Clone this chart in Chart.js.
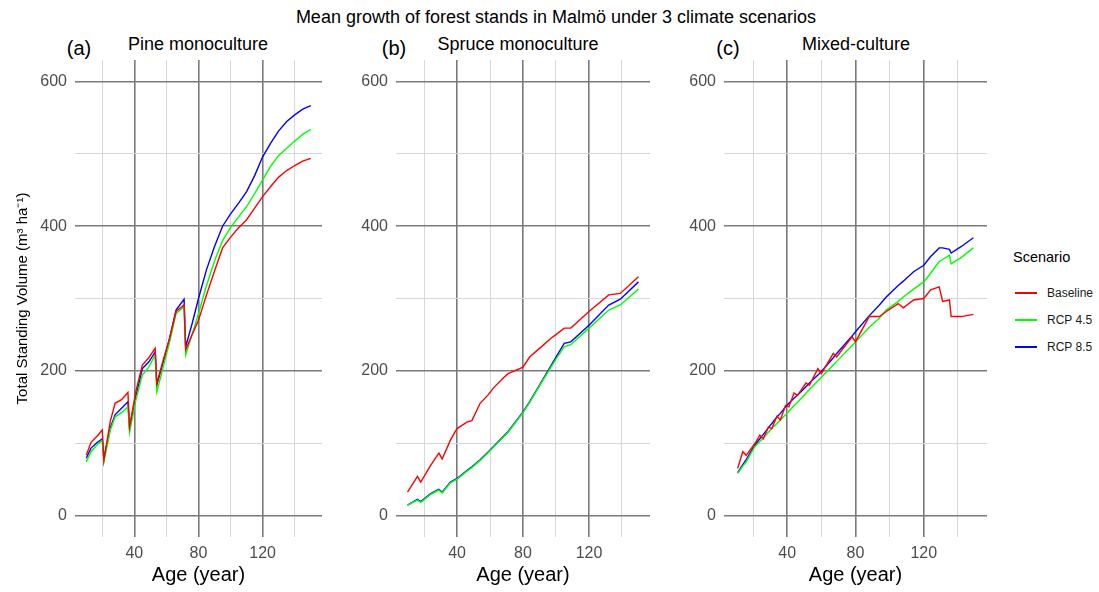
<!DOCTYPE html>
<html>
<head>
<meta charset="utf-8">
<title>Mean growth of forest stands in Malmö</title>
<script src="https://cdn.jsdelivr.net/npm/chart.js@4.4.0/dist/chart.umd.min.js"></script>
<style>
  html, body { margin: 0; padding: 0; background: #fff; }
  #figure {
    position: relative;
    width: 1099px;
    height: 592px;
    overflow: hidden;
    font-family: "Liberation Sans", Arial, sans-serif;
    color: #000;
  }
  #figure canvas { position: absolute; top: 0; }
  .txt {
    position: absolute;
    white-space: nowrap;
    line-height: 1;
    transform: translate(-50%, -50%);
  }
  #main-title { left: 556px; top: 17px; font-size: 18px; }
  .tag { font-size: 20px; top: 48px; }
  .panel-title { font-size: 18px; top: 44px; }
  #legend { position: absolute; left: 1013px; top: 249px; }
  #legend .legend-title { font-size: 14.5px; margin-bottom: 14px; color: #000; }
  #legend ul { list-style: none; margin: 0; padding: 0; }
  #legend li { display: flex; align-items: center; height: 27px; font-size: 12px; color: #1a1a1a; }
  #legend li span.swatch { display: inline-block; width: 22px; height: 0; margin: 0 10px 0 2px; border-top-style: solid; }
</style>
</head>
<body>
<div id="figure">
  <div class="txt" id="main-title">Mean growth of forest stands in Malmö under 3 climate scenarios</div>
  <div class="txt tag" style="left:79px">(a)</div>
  <div class="txt panel-title" style="left:198px">Pine monoculture</div>
  <div class="txt tag" style="left:394px">(b)</div>
  <div class="txt panel-title" style="left:518px">Spruce monoculture</div>
  <div class="txt tag" style="left:728px">(c)</div>
  <div class="txt panel-title" style="left:856px">Mixed-culture</div>

  <canvas id="pine" width="330" height="592" style="left:0px"></canvas>
  <canvas id="spruce" width="330" height="592" style="left:330px"></canvas>
  <canvas id="mixed" width="340" height="592" style="left:660px"></canvas>

  <div id="legend"></div>
</div>

<script>
// ---- data ----
const scenarios = ['Baseline', 'RCP 4.5', 'RCP 8.5'];
const scenarioColors = ['#ff0000', '#00ff00', '#0000ff'];

// Pine monoculture
const pineAges = [10, 13, 17, 20, 21, 25, 28, 32, 36, 37, 41, 45, 49, 53, 54, 58, 62, 66, 71, 72, 76, 80, 85, 90, 95, 100, 105, 110, 115, 120, 125, 130, 135, 140, 145, 150];
const pineBaseline = [83, 101, 110, 118, 76, 130, 155, 160, 170, 122, 172, 208, 218, 231, 182, 215, 245, 282, 291, 229, 250, 270, 305, 338, 370, 385, 398, 409, 425, 441, 455, 468, 477, 484, 490, 494];
const pineRcp45 = [74, 88, 98, 104, 74, 118, 136, 142, 150, 115, 160, 194, 205, 222, 171, 205, 240, 279, 289, 222, 250, 279, 318, 352, 380, 398, 413, 427, 445, 464, 483, 498, 508, 518, 527, 534];
const pineRcp85 = [79, 93, 101, 106, 79, 121, 139, 148, 157, 122, 165, 203, 212, 226, 180, 212, 245, 284, 299, 233, 265, 300, 340, 372, 400, 417, 432, 448, 470, 496, 515, 532, 545, 554, 562, 567];

// Spruce monoculture
const spruceAges = [10, 16, 18, 24, 29, 31, 36, 40, 46, 49, 54, 59, 62, 68, 71, 80, 84, 90, 97, 100, 105, 109, 120, 132, 139, 150];
const spruceBaseline = [32, 54, 46, 69, 86, 78, 104, 120, 129, 131, 155, 167, 176, 190, 196, 205, 219, 231, 245, 250, 259, 259, 282, 305, 307, 330];
const spruceRcp45 = [14, 21, 18, 29, 35, 31, 45, 50, 61, 66, 76, 87, 94, 108, 115, 142, 156, 179, 205, 216, 233, 236, 259, 284, 291, 313];
const spruceRcp85 = [14, 22, 19, 30, 36, 32, 46, 51, 62, 67, 77, 88, 95, 109, 116, 143, 157, 180, 207, 219, 238, 240, 263, 291, 299, 323];

// Mixed-culture
const mixedAges = [11, 14, 16, 21, 24, 26, 29, 31, 34, 36, 39, 41, 44, 46, 51, 53, 58, 60, 67, 69, 78, 80, 88, 94, 98, 105, 108, 114, 120, 124, 129, 131, 135, 136, 142, 149];
const mixedBaseline = [65, 88, 83, 99, 111, 106, 122, 120, 137, 132, 152, 150, 169, 166, 183, 180, 203, 196, 224, 219, 247, 240, 275, 275, 282, 293, 287, 298, 300, 312, 316, 296, 298, 275, 275, 278];
const mixedRcp45 = [58, 68, 74, 95, 102, 107, 115, 120, 127, 132, 139, 144, 152, 156, 169, 174, 186, 191, 208, 213, 235, 240, 260, 273, 284, 296, 302, 313, 323, 335, 351, 354, 360, 348, 357, 370];
const mixedRcp85 = [59, 70, 77, 97, 106, 112, 121, 127, 136, 141, 150, 155, 162, 166, 178, 183, 194, 199, 218, 224, 248, 254, 276, 291, 302, 318, 324, 337, 346, 358, 370, 370, 368, 363, 372, 384];

// axis ticks
const xTicks = [20, 40, 60, 80, 100, 120, 140];
const xLabelled = [40, 80, 120];
const yTicks = [0, 100, 200, 300, 400, 500, 600];
const yLabelled = [0, 200, 400, 600];

const MAJOR_GRID = '#7a7a7a';
const MINOR_GRID = '#d6d6de';

Chart.defaults.font.family = '"Liberation Sans", Arial, sans-serif';

function toPoints(ages, values) {
  return ages.map((age, i) => ({ x: age, y: values[i] }));
}

function buildDatasets(ages, seriesList) {
  return seriesList.map((values, i) => ({
    label: scenarios[i],
    data: toPoints(ages, values),
    borderColor: scenarioColors[i],
    backgroundColor: scenarioColors[i],
    borderWidth: 1.4,
    pointRadius: 0,
    tension: 0
  }));
}

/**
 * Builds a panel; yAxisWidth/rightPad place the plot area where the reference has it
 */
function makePanel(canvasId, datasets, yAxisWidth, rightPad, showYTitle, plugins) {
  const ctx = document.getElementById(canvasId);
  return new Chart(ctx, {
    type: 'line',
    data: { datasets: datasets },
    options: {
      responsive: false,
      animation: false,
      devicePixelRatio: 1,
      layout: { padding: { left: 0, right: rightPad, top: 60, bottom: 0 } },
      plugins: {
        legend: { display: false },
        tooltip: { enabled: false }
      },
      scales: {
        x: {
          type: 'linear',
          min: 3,
          max: 157,
          border: { display: false },
          grid: {
            drawTicks: false,
            color: (c) => xLabelled.includes(c.tick.value) ? MAJOR_GRID : MINOR_GRID,
            lineWidth: (c) => xLabelled.includes(c.tick.value) ? 1.6 : 1
          },
          ticks: {
            padding: 7,
            color: '#4d4d4d',
            font: { size: 16 },
            maxRotation: 0,
            autoSkip: false,
            callback: (v) => xLabelled.includes(v) ? String(v) : ''
          },
          afterBuildTicks: (scale) => { scale.ticks = xTicks.map(v => ({ value: v })); },
          afterFit: (scale) => { scale.height = 55; },
          title: {
            display: true,
            text: 'Age (year)',
            color: '#000',
            font: { size: 20 },
            padding: { top: 0, bottom: 5 }
          }
        },
        y: {
          type: 'linear',
          min: -30,
          max: 630,
          border: { display: false },
          grid: {
            drawTicks: false,
            color: (c) => yLabelled.includes(c.tick.value) ? MAJOR_GRID : MINOR_GRID,
            lineWidth: (c) => yLabelled.includes(c.tick.value) ? 1.6 : 1
          },
          ticks: {
            padding: 8,
            color: '#4d4d4d',
            font: { size: 16 },
            autoSkip: false,
            callback: (v) => yLabelled.includes(v) ? String(v) : ''
          },
          afterBuildTicks: (scale) => { scale.ticks = yTicks.map(v => ({ value: v })); },
          afterFit: (scale) => { scale.width = yAxisWidth; },
          title: {
            display: showYTitle,
            text: 'Total Standing Volume (m³ ha⁻¹)',
            color: '#000',
            font: { size: 15 },
            padding: { top: 14, bottom: 0 }
          }
        }
      }
    },
    plugins: plugins || []
  });
}

// HTML legend built from the chart's own legend items
const htmlLegend = {
  id: 'htmlLegend',
  afterUpdate(chart) {
    const box = document.getElementById('legend');
    box.innerHTML = '';
    const title = document.createElement('div');
    title.className = 'legend-title';
    title.textContent = 'Scenario';
    box.appendChild(title);
    const ul = document.createElement('ul');
    const items = chart.options.plugins.legend.labels.generateLabels(chart);
    items.forEach(item => {
      const li = document.createElement('li');
      const sw = document.createElement('span');
      sw.className = 'swatch';
      sw.style.borderTopColor = item.strokeStyle;
      sw.style.borderTopWidth = '2px';
      li.appendChild(sw);
      li.appendChild(document.createTextNode(item.text));
      ul.appendChild(li);
    });
    box.appendChild(ul);
  }
};

makePanel('pine', buildDatasets(pineAges, [pineBaseline, pineRcp45, pineRcp85]), 75, 8, true);
makePanel('spruce', buildDatasets(spruceAges, [spruceBaseline, spruceRcp45, spruceRcp85]), 66, 10, false);
makePanel('mixed', buildDatasets(mixedAges, [mixedBaseline, mixedRcp45, mixedRcp85]), 64, 13, false, [htmlLegend]);
</script>
</body>
</html>
